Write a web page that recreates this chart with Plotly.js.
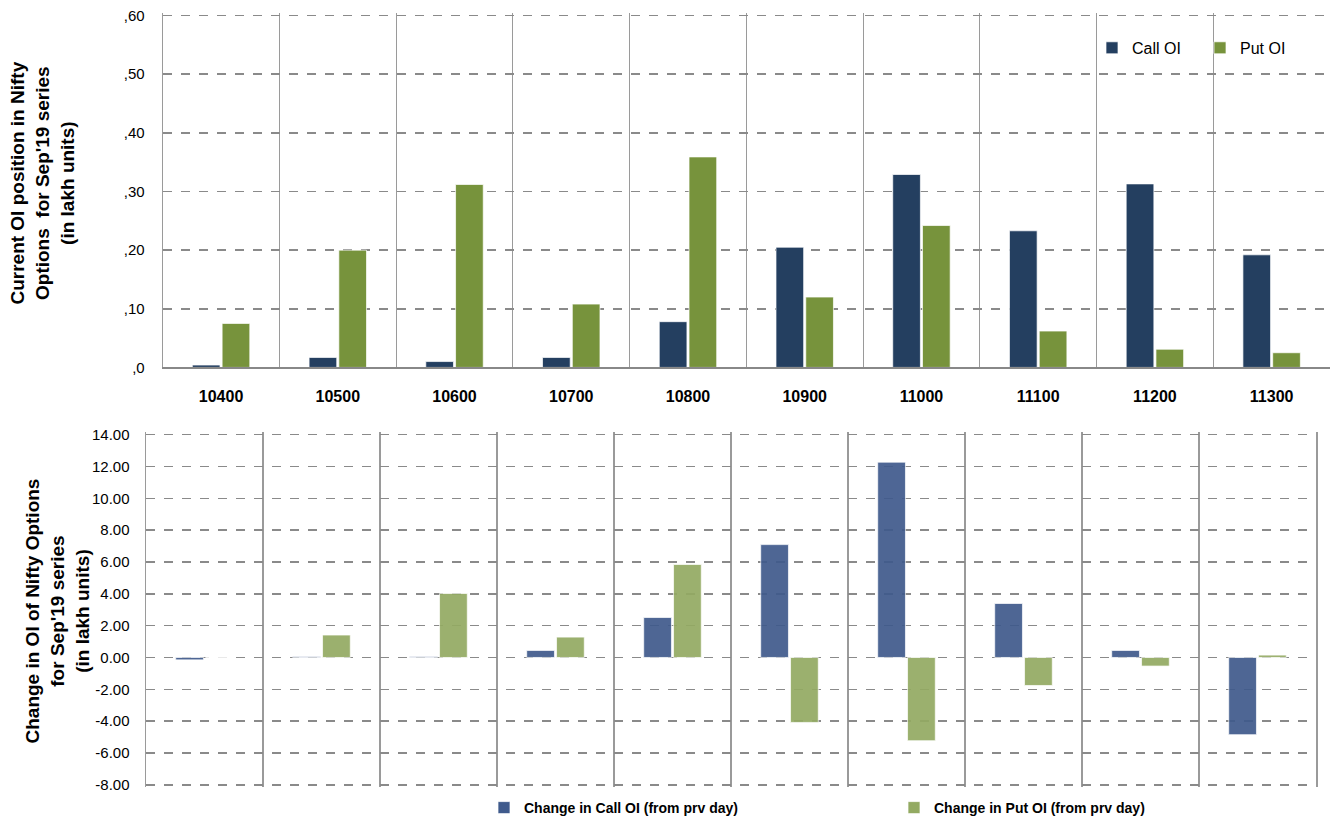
<!DOCTYPE html>
<html>
<head>
<meta charset="utf-8">
<script src="https://cdn.plot.ly/plotly-3.0.1.min.js"></script>
<style>html,body{margin:0;padding:0;background:#fff;}#chart{width:1330px;height:824px;}</style>
</head>
<body>
<div id="chart"></div>
<script>
// ---- Data ----
var strikes = ['10400','10500','10600','10700','10800','10900','11000','11100','11200','11300'];
var callOI = [0.4, 1.7, 1.0, 1.7, 7.8, 20.5, 32.9, 23.3, 31.3, 19.2];
var putOI  = [7.5, 20.0, 31.2, 10.8, 35.9, 12.0, 24.2, 6.2, 3.1, 2.5];
var chgCallOI = [-0.15, 0.05, 0.05, 0.44, 2.51, 7.09, 12.27, 3.39, 0.44, -4.85];
var chgPutOI  = [0.0, 1.41, 4.02, 1.28, 5.84, -4.08, -5.23, -1.76, -0.54, 0.15];
var topTickVals = [0, 10, 20, 30, 40, 50, 60];
var topTickText = [',0', ',10', ',20', ',30', ',40', ',50', ',60'];
var botTickVals = [-8, -6, -4, -2, 0, 2, 4, 6, 8, 10, 12, 14];
var botTickText = ['-8.00','-6.00','-4.00','-2.00','0.00','2.00','4.00','6.00','8.00','10.00','12.00','14.00'];

var W = 1330, H = 824;
function px(x){ return x / W; }
function py(y){ return 1 - y / H; }

var FONT = 'Liberation Sans, Arial, sans-serif';
var gridC = '#8a8a8a';
var vC = '#9a9a9a';

var traces = [
  {type:'bar', name:'Call OI', x:strikes, y:callOI, xaxis:'x', yaxis:'y',
   marker:{color:'#243F60', line:{color:'rgba(255,255,255,0.7)', width:1}}, legend:'legend'},
  {type:'bar', name:'Put OI', x:strikes, y:putOI, xaxis:'x', yaxis:'y',
   marker:{color:'#77933C', line:{color:'rgba(255,255,255,0.7)', width:1}}, legend:'legend3'},
  {type:'bar', name:'Change in Call OI (from prv day)', x:strikes, y:chgCallOI, xaxis:'x2', yaxis:'y2',
   marker:{color:'#3F5A8C', opacity:0.92, line:{color:'rgba(255,255,255,0.7)', width:1}}, legend:'legend2'},
  {type:'bar', name:'Change in Put OI (from prv day)', x:strikes, y:chgPutOI, xaxis:'x2', yaxis:'y2',
   marker:{color:'#93AA62', opacity:0.92, line:{color:'rgba(255,255,255,0.7)', width:1}}, legend:'legend4'}
];

function leg(xPix, yPix, font){
  return {orientation:'h', xref:'paper', yref:'paper', x:px(xPix), y:py(yPix),
          xanchor:'left', yanchor:'middle', bgcolor:'rgba(255,255,255,0)',
          font:font, itemclick:false, itemdoubleclick:false};
}
var topLegFont = {size:16, family:FONT, color:'#000'};
var botLegFont = {size:14, family:FONT, weight:'bold', color:'#000'};

var layout = {
  width: W, height: H,
  margin: {l:0, r:0, t:0, b:0},
  paper_bgcolor:'#fff', plot_bgcolor:'#fff',
  font: {family: FONT, color:'#000'},
  barmode:'group', bargap:0.49, bargroupgap:0.07,
  showlegend:true,
  xaxis: {
    domain:[px(162.7), 1], anchor:'y', type:'category',
    tickson:'boundaries', showgrid:true, gridcolor:vC, gridwidth:1,
    showline:true, linecolor:'#888', linewidth:1.5,
    ticks:'', ticklabelstandoff:14,
    tickfont:{size:16, family:FONT, weight:'bold', color:'#000'}
  },
  yaxis: {
    domain:[py(368.3), py(13.3)], anchor:'x', range:[0,60.4],
    tickvals:topTickVals, ticktext:topTickText,
    showgrid:true, gridcolor:gridC, gridwidth:1.5, griddash:'dash',
    zeroline:false, showline:true, linecolor:vC, linewidth:1,
    ticks:'', ticklabelstandoff:14,
    tickfont:{size:15, family:FONT, color:'#000'}
  },
  xaxis2: {
    domain:[px(146), px(1316)], anchor:'y2', type:'category',
    tickson:'boundaries', showgrid:true, gridcolor:vC, gridwidth:1.5,
    showline:false, showticklabels:false, ticks:''
  },
  yaxis2: {
    domain:[py(789.1), py(433.3)], anchor:'x2', range:[-8.15,14.15],
    tickvals:botTickVals, ticktext:botTickText,
    showgrid:true, gridcolor:gridC, gridwidth:1.5, griddash:'dash',
    zeroline:false, showline:true, mirror:true, linecolor:vC, linewidth:1.5,
    ticks:'', ticklabelstandoff:12,
    tickfont:{size:15, family:FONT, color:'#000'}
  },
  legend:  leg(1092, 48, topLegFont),
  legend3: leg(1200, 48, topLegFont),
  legend2: leg(484, 810, botLegFont),
  legend4: leg(894, 810, botLegFont),
  annotations: [
    {text:"Current OI position in Nifty<br>Options  for Sep'19 series<br>(in lakh units)",
     xref:'paper', yref:'paper', x:px(42), y:py(184), xanchor:'center', yanchor:'middle',
     textangle:-90, showarrow:false, font:{size:19, family:FONT, weight:'bold', color:'#000'}},
    {text:"Change in OI of Nifty Options<br>for Sep'19 series<br>(in lakh units)",
     xref:'paper', yref:'paper', x:px(57), y:py(613), xanchor:'center', yanchor:'middle',
     textangle:-90, showarrow:false, font:{size:19, family:FONT, weight:'bold', color:'#000'}}
  ]
};

Plotly.newPlot('chart', traces, layout, {displayModeBar:false, staticPlot:true});
</script>
</body>
</html>
